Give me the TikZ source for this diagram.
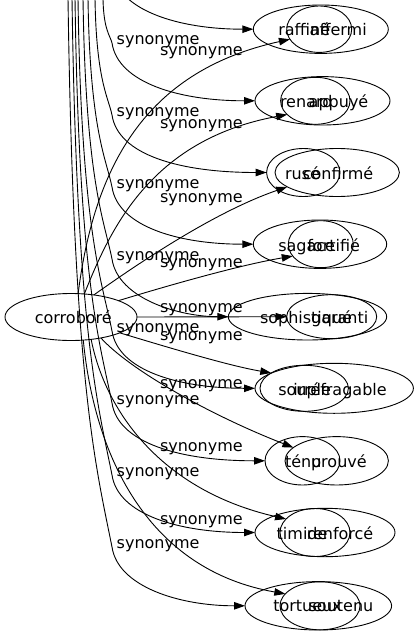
\documentclass[tikz,border=0pt]{standalone}
\usepackage{fontspec}
\setmainfont{DejaVu Sans}
\usetikzlibrary{shapes.geometric,arrows.meta}
\begin{document}
\begin{tikzpicture}[x=1pt,y=-1pt,
  every node/.style={inner sep=0pt,outer sep=0pt},
  ell/.style={draw,ellipse,line width=0.9pt},
  txt/.style={font=\fontsize{16}{19}\selectfont},
  lab/.style={txt,anchor=base west},
  wordL/.style={txt,anchor=base west},
  wordR/.style={txt,anchor=base east},
  conn/.style={draw,line width=0.9pt,-{Triangle[length=11pt,width=7.5pt]}}]
\useasboundingbox (0,0) rectangle (418,635);
\clip (0,0) rectangle (418,635);
% ---- ellipses
\node[ell,minimum width=132pt,minimum height=47pt] (corr) at (71,317) {};
\node[ell,minimum width=135pt,minimum height=48.4pt] (raffine) at (320.8,29.2) {};
\node[ell,minimum width=65pt,minimum height=46.4pt] (affermi) at (319.2,29.2) {};
\node[ell,minimum width=135pt,minimum height=48.4pt] (renard) at (322.5,100.8) {};
\node[ell,minimum width=69.4pt,minimum height=47pt] (appuye) at (315.3,100.8) {};
\node[ell,minimum width=73.4pt,minimum height=48pt] (ruse) at (303.3,172.5) {};
\node[ell,minimum width=124.4pt,minimum height=48pt] (confirme) at (337.2,172.5) {};
\node[ell,minimum width=133.4pt,minimum height=48.4pt] (sagace) at (320,244.2) {};
\node[ell,minimum width=65pt,minimum height=47pt] (fortifie) at (320.8,244.2) {};
\node[ell,minimum width=158.4pt,minimum height=46.6pt] (sophistique) at (307.5,316.7) {};
\node[ell,minimum width=90pt,minimum height=44pt] (garanti) at (331.7,316.7) {};
\node[ell,minimum width=158.4pt,minimum height=50pt] (souple) at (334.2,388.3) {};
\node[ell,minimum width=88.4pt,minimum height=46pt] (irrefragable) at (304.2,388.3) {};
\node[ell,minimum width=75pt,minimum height=48.4pt] (tenu) at (302.5,460.8) {};
\node[ell,minimum width=103.4pt,minimum height=48.4pt] (prouve) at (336.7,460.8) {};
\node[ell,minimum width=140pt,minimum height=48.4pt] (timide) at (325,532.5) {};
\node[ell,minimum width=70pt,minimum height=48pt] (renforce) at (315,532.5) {};
\node[ell,minimum width=146.6pt,minimum height=48.4pt] (tortueux) at (318.3,605.8) {};
\node[ell,minimum width=80pt,minimum height=48pt] (soutenu) at (320,605.8) {};
% ---- node texts
\node[txt] (tcorr) at (73.3,317) {corroboré};
\node[wordL] (t1) at (278.3,35) {raffiné};
\node[wordR] (t2) at (366.7,35) {affermi};
\node[wordL] (t3) at (280,107) {renard};
\node[wordR] (t4) at (368.3,107) {appuyé};
\node[wordL] (t5) at (285,179) {rusé};
\node[wordR] (t6) at (373.3,179) {confirmé};
\node[wordL] (t7) at (278.3,251) {sagace};
\node[wordR] (t8) at (360,251) {fortifié};
\node[wordL] (t9) at (260,323) {sophistiqué};
\node[wordR] (t10) at (368.3,323) {garanti};
\node[wordL] (t11) at (278.3,395) {souple};
\node[wordR] (t12) at (386.7,395) {irréfragable};
\node[wordL] (t13) at (285,467) {ténu};
\node[wordR] (t14) at (366.7,467) {prouvé};
\node[wordL] (t15) at (276.7,539) {timide};
\node[wordR] (t16) at (373.3,539) {renforcé};
\node[wordL] (t17) at (273.3,611) {tortueux};
\node[wordR] (t18) at (373.3,611) {soutenu};
% ---- edge labels (left column)
\foreach \y/\n in {44/b2,116/b3,188/b4,260/b5,332/b6,404/b7,476/b8,548/b9}
  \node[lab] (l\n) at (116.7,\y) {synonyme};
% ---- edge labels (right column)
\foreach \y/\n in {55/a1,128/a2,202/a3,267/a4,312/a5,340/a6,388/a7,451/a8,524/a9}
  \node[lab] (l\n) at (160,\y) {synonyme};
% ---- free ends of the edges coming from above
\coordinate (bB1) at (112,-29);
\coordinate (tB2) at (103,-2);
\coordinate (tB3) at (95,-2);
\coordinate (tB4) at (88,-2);
\coordinate (tB5) at (83,-2);
\coordinate (tB6) at (78,-2);
\coordinate (tB7) at (75,-2);
\coordinate (tB8) at (72,-2);
\coordinate (tB9) at (68,-2);
% ---- edges from above
\draw[conn] (bB1) .. controls (118,11) and (180,29.2) .. (raffine.west);
\draw[conn] (tB2) .. controls (103.4,30.1) and (110.7,36.6) .. (112,43) .. controls (118,83) and (180,100.8) .. (renard.west);
\draw[conn] (tB3) .. controls (96.2,80.5) and (108.5,97.8) .. (112,115) .. controls (118,155) and (180,172.5) .. (ruse.west);
\draw[conn] (tB4) .. controls (89.9,130.9) and (106.4,159) .. (112,187) .. controls (118,227) and (180,244.2) .. (sagace.west);
\draw[conn] (tB5) .. controls (85.6,181.3) and (104.2,220.2) .. (112,259) .. controls (118,299) and (180,316.7) .. (sophistique.west);
\draw[conn] (tB6) .. controls (81.3,231.7) and (102.1,281.4) .. (112,331) .. controls (118,371) and (180,388.3) .. (souple.west);
\draw[conn] (tB7) .. controls (79,282.1) and (99.9,342.6) .. (112,403) .. controls (118,443) and (180,460.8) .. (tenu.west);
\draw[conn] (tB8) .. controls (76.8,332.5) and (97.8,403.8) .. (112,475) .. controls (118,515) and (180,532.5) .. (timide.west);
\draw[conn] (tB9) .. controls (73.5,382.9) and (95.6,465) .. (112,547) .. controls (118,587) and (180,605.8) .. (tortueux.west);
% ---- edges from corroboré
\draw[conn] (corr.73) .. controls (95,160) and (150,70) .. (affermi.199);
\draw[conn] (corr.60) .. controls (110,230) and (150,140) .. (appuye.206);
\draw[conn] (corr.44) .. controls (150,255) and (220,210) .. (confirme.196);
\draw[conn] (corr.19) .. controls (170,285) and (240,265) .. (fortifie.203);
\draw[conn] (corr.east) -- (garanti.west);
\draw[conn] (corr.342) .. controls (170,348) and (230,366) .. (irrefragable.155);
\draw[conn] (corr.325) .. controls (130,370) and (210,415) .. (prouve.163);
\draw[conn] (corr.312) .. controls (105,410) and (160,490) .. (renforce.155);
\draw[conn] (corr.298) .. controls (95,460) and (150,570) .. (soutenu.161);
\end{tikzpicture}
\end{document}
